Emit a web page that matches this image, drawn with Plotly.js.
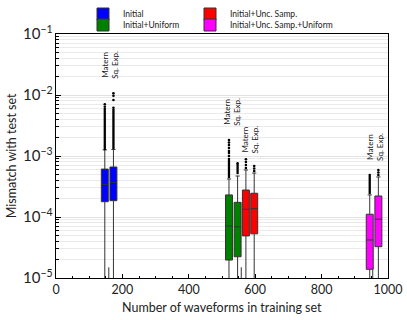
<!DOCTYPE html>
<html><head><meta charset="utf-8">
<script src="https://cdn.plot.ly/plotly-3.0.1.min.js"></script>
<style>html,body{margin:0;padding:0;background:#fff}#chart{width:407px;height:320px}</style>
</head><body><div id="chart"></div>
<script>
// ---- data ----
const groupNames = ['Initial', 'Initial+Uniform', 'Initial+Unc. Samp.', 'Initial+Unc. Samp.+Uniform'];
const groupColors = ['#0000ff', '#008000', '#ff0000', '#ff00ff'];
const kernelNames = ['Matern', 'Sq. Exp.'];
const xTitle = 'Number of waveforms in training set';
const yTitle = 'Mismatch with test set';
const boxPositions = [147, 173, 521, 547, 572, 597, 945, 971];
const boxGroupIndex = [0, 0, 1, 1, 2, 2, 3, 3];
const boxKernelIndex = [0, 1, 0, 1, 0, 1, 0, 1];
const boxQ1 = [1.78e-4, 1.85e-4, 1.97e-5, 2.23e-5, 4.9e-5, 5.3e-5, 1.39e-5, 3.26e-5];
const boxMedian = [3.43e-4, 3.7e-4, 7.1e-5, 6.9e-5, 1.34e-4, 1.37e-4, 4.2e-5, 9.2e-5];
const boxQ3 = [6.1e-4, 6.6e-4, 2.3e-4, 1.74e-4, 2.77e-4, 2.45e-4, 1.11e-4, 2.21e-4];
const boxUpperWhisker = [1.26e-3, 1.28e-3, 4.2e-4, 4.7e-4, 5.9e-4, 5.26e-4, 2.3e-4, 4.53e-4];
const boxLowerWhisker = [2e-6, 2e-6, 2e-6, 2e-6, 2e-6, 2e-6, 2e-6, 2e-6];
const boxFliers = [
  [7.05e-3, 6.43e-3, 5.89e-3, 5.47e-3, 5.07e-3, 4.70e-3, 4.36e-3, 4.04e-3, 3.75e-3, 3.48e-3, 3.22e-3, 2.99e-3, 2.77e-3, 2.57e-3, 2.38e-3, 2.21e-3, 2.05e-3, 1.90e-3, 1.76e-3, 1.63e-3, 1.51e-3, 1.41e-3, 1.30e-3],
  [1.07e-2, 9.74e-3, 8.28e-3, 6.19e-3, 5.68e-3, 5.26e-3, 4.88e-3, 4.53e-3, 4.20e-3, 3.89e-3, 3.61e-3, 3.35e-3, 3.10e-3, 2.88e-3, 2.67e-3, 2.47e-3, 2.29e-3, 2.13e-3, 1.97e-3, 1.83e-3, 1.70e-3, 1.57e-3, 1.46e-3, 1.35e-3],
  [1.83e-3, 1.66e-3, 1.51e-3, 1.35e-3, 1.21e-3, 1.12e-3, 1.00e-3, 8.93e-4, 8.28e-4, 7.67e-4, 7.12e-4, 6.60e-4, 6.12e-4, 5.67e-4, 5.26e-4, 4.88e-4, 4.53e-4],
  [7.59e-4, 7.12e-4, 6.60e-4, 6.12e-4, 5.67e-4, 5.26e-4],
  [8.83e-4, 7.98e-4, 7.12e-4, 6.35e-4],
  [6.85e-4, 6.24e-4, 5.67e-4],
  [4.88e-4, 4.53e-4, 4.20e-4, 3.89e-4, 3.61e-4, 3.35e-4, 3.10e-4, 2.88e-4, 2.67e-4, 2.47e-4],
  [5.89e-4, 5.37e-4, 4.88e-4]
];
const stubPositions = [159, 558, 954];
const stubTop = [1.5e-5, 1.5e-5, 1.4e-5];
const stubBottom = [2e-6, 2e-6, 2e-6];
const labelPositions = [162, 531, 583, 959];
const labelHeights = [3.1e-2, 5.37e-3, 1.83e-3, 1.43e-3];

// ---- build traces ----
const FONT = 'Lato, "DejaVu Sans", sans-serif';
const legendIds = ['legend', 'legend3', 'legend2', 'legend4'];
const traces = [];
boxPositions.forEach((pos, i) => {
  const g = boxGroupIndex[i];
  traces.push({
    type: 'box', orientation: 'v',
    name: groupNames[g],
    x: [pos], q1: [boxQ1[i]], median: [boxMedian[i]], q3: [boxQ3[i]],
    lowerfence: [boxLowerWhisker[i]], upperfence: [boxUpperWhisker[i]],
    width: 21, whiskerwidth: 0.6, boxpoints: false,
    fillcolor: groupColors[g],
    line: {color: '#333', width: 1},
    showlegend: boxKernelIndex[i] === 0,
    legend: legendIds[g],
    hoverinfo: 'skip'
  });
});
const flierX = [], flierY = [];
boxFliers.forEach((arr, i) => { arr.forEach(v => { flierX.push(boxPositions[i]); flierY.push(v); }); });
traces.push({
  type: 'scatter', mode: 'markers', x: flierX, y: flierY, showlegend: false,
  marker: {color: '#000', size: 2.6, symbol: 'circle', line: {width: 0}}, hoverinfo: 'skip'
});
const sx = [], sy = [];
stubPositions.forEach((p, i) => { sx.push(p, p, null); sy.push(stubTop[i], stubBottom[i], null); });
traces.push({
  type: 'scatter', mode: 'lines', x: sx, y: sy, showlegend: false,
  line: {color: '#333', width: 1}, hoverinfo: 'skip'
});

const annotations = labelPositions.map((x, i) => ({
  x: x, y: Math.log10(labelHeights[i]), xref: 'x', yref: 'y',
  text: kernelNames.join('<br>'), textangle: -90, showarrow: false,
  font: {family: FONT, size: 8, color: '#222'}
}));
annotations.push({
  xref: 'paper', yref: 'paper', x: 0.5, y: -0.119, text: xTitle, showarrow: false,
  xanchor: 'center', yanchor: 'middle', font: {family: FONT, size: 12.5, color: '#222'}
});
annotations.push({
  xref: 'paper', yref: 'paper', x: -0.135, y: 0.5, text: yTitle, showarrow: false, textangle: -90,
  xanchor: 'center', yanchor: 'middle', font: {family: FONT, size: 12.5, color: '#222'}
});

function legendAt(xpx, ypx) {
  return {
    xref: 'container', yref: 'container', x: xpx / 407, y: 1 - ypx / 320,
    xanchor: 'left', yanchor: 'middle', bgcolor: 'rgba(0,0,0,0)', borderwidth: 0,
    font: {family: FONT, size: 8.5, color: '#222'}, itemclick: false
  };
}

const layout = {
  width: 407, height: 320,
  margin: {l: 56, r: 18.5, t: 34, b: 42, autoexpand: false},
  paper_bgcolor: '#fff', plot_bgcolor: '#fff',
  font: {family: FONT, size: 12, color: '#222'},
  boxmode: 'overlay',
  showlegend: true,
  legend: legendAt(83, 14),
  legend2: legendAt(190, 14),
  legend3: legendAt(83, 25),
  legend4: legendAt(190, 25),
  xaxis: {
    range: [0, 1000], tick0: 0, dtick: 200, ticks: 'inside', ticklen: 4, tickcolor: '#000',
    showline: true, linecolor: '#000', linewidth: 1, mirror: true,
    showgrid: false, zeroline: false,
    minor: {dtick: 50, ticks: 'inside', ticklen: 2, tickcolor: '#000', showgrid: false},
    tickfont: {family: FONT, size: 12.5, color: '#222'}
  },
  yaxis: {
    type: 'log', range: [-5, -1], dtick: 1, exponentformat: 'power',
    ticks: 'inside', ticklen: 5, tickcolor: '#000',
    showline: true, linecolor: '#000', linewidth: 1, mirror: true,
    showgrid: true, gridcolor: '#cfcfcf', gridwidth: 0.6, zeroline: false,
    minor: {dtick: 'D1', ticks: 'inside', ticklen: 3, tickcolor: '#000', showgrid: true, gridcolor: '#dcdcdc', gridwidth: 0.6},
    tickfont: {family: FONT, size: 12, color: '#222'}
  },
  annotations: annotations
};

Plotly.newPlot('chart', traces, layout, {staticPlot: true, displayModeBar: false});
</script>
</body></html>
